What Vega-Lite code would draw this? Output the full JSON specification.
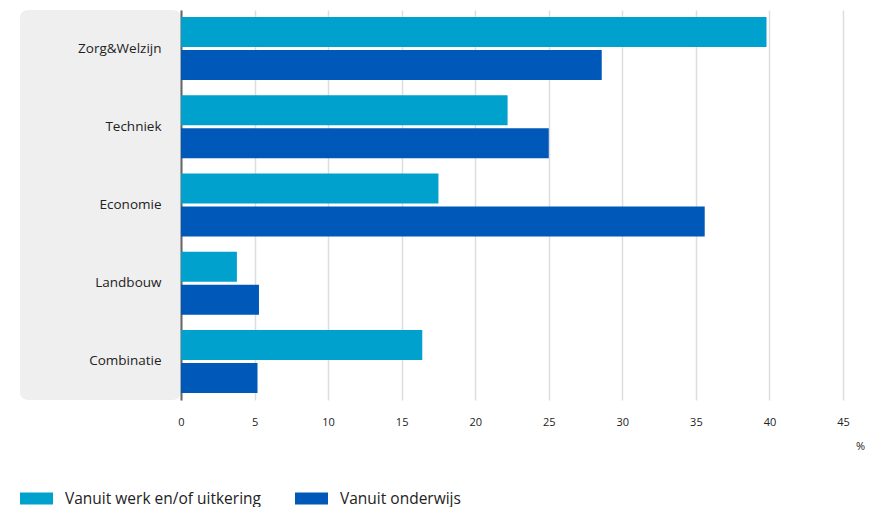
{
  "$schema": "https://vega.github.io/schema/vega-lite/v6.json",
  "padding": {"left": 20, "top": 10, "right": 0, "bottom": 0},
  "autosize": {"type": "pad"},
  "background": "white",
  "spacing": 0,
  "bounds": "flush",
  "config": {"font": "Open Sans", "view": {"stroke": null}},
  "data": {"values": [
    {"category": "Zorg&Welzijn", "series": "Vanuit werk en/of uitkering", "value": 39.8},
    {"category": "Zorg&Welzijn", "series": "Vanuit onderwijs", "value": 28.6},
    {"category": "Techniek", "series": "Vanuit werk en/of uitkering", "value": 22.2},
    {"category": "Techniek", "series": "Vanuit onderwijs", "value": 25.0},
    {"category": "Economie", "series": "Vanuit werk en/of uitkering", "value": 17.5},
    {"category": "Economie", "series": "Vanuit onderwijs", "value": 35.6},
    {"category": "Landbouw", "series": "Vanuit werk en/of uitkering", "value": 3.8},
    {"category": "Landbouw", "series": "Vanuit onderwijs", "value": 5.3},
    {"category": "Combinatie", "series": "Vanuit werk en/of uitkering", "value": 16.4},
    {"category": "Combinatie", "series": "Vanuit onderwijs", "value": 5.2}
  ]},
  "hconcat": [
    {
      "width": 161,
      "height": 390,
      "view": {"fill": "#efefef", "cornerRadius": 8, "stroke": null},
      "transform": [{"filter": "datum.series === 'Vanuit onderwijs'"}],
      "mark": {"type": "text", "align": "right", "baseline": "middle", "dx": 61, "fontSize": 13.5, "fontWeight": "normal", "color": "#222222"},
      "encoding": {
        "y": {"field": "category", "type": "nominal", "sort": ["Zorg&Welzijn", "Techniek", "Economie", "Landbouw", "Combinatie"], "scale": {"paddingInner": 0.195, "paddingOuter": 0.09}, "axis": null},
        "text": {"field": "category", "type": "nominal"}
      }
    },
    {
      "width": 662,
      "height": 390,
      "mark": {"type": "bar"},
      "encoding": {
        "y": {"field": "category", "type": "nominal", "sort": ["Zorg&Welzijn", "Techniek", "Economie", "Landbouw", "Combinatie"], "scale": {"paddingInner": 0.195, "paddingOuter": 0.09},
              "axis": {"labels": false, "ticks": false, "domain": true, "domainColor": "#666666", "domainWidth": 2, "title": null, "grid": false}},
        "yOffset": {"field": "series", "type": "nominal", "sort": ["Vanuit werk en/of uitkering", "Vanuit onderwijs"], "scale": {"paddingInner": 0.09}},
        "x": {"field": "value", "type": "quantitative", "scale": {"domain": [0, 45], "nice": false},
              "axis": {"values": [0, 5, 10, 15, 20, 25, 30, 35, 40, 45], "grid": true, "gridColor": "#dddddd", "gridWidth": 1.5, "domain": false, "ticks": false, "labelFlush": false, "labelPadding": 16, "labelFontSize": 11, "labelColor": "#222222", "title": "%", "titleX": 679, "titleY": 46, "titleFontWeight": "normal", "titleFontSize": 11, "titleColor": "#222222", "titleAlign": "center", "titleBaseline": "middle"}},
        "color": {"field": "series", "type": "nominal", "scale": {"domain": ["Vanuit werk en/of uitkering", "Vanuit onderwijs"], "range": ["#00a1cd", "#0058b8"]},
                  "legend": {"orient": "none", "legendX": 0, "legendY": 472, "direction": "horizontal", "title": null, "symbolType": "M-1,-0.364H1V0.364H-1Z", "symbolSize": 1089, "symbolStrokeWidth": 0, "labelFontSize": 15.5, "labelOffset": 12, "labelLimit": 0, "columnPadding": 34, "labelColor": "#222222", "symbolOpacity": 1}}
      }
    }
  ]
}
